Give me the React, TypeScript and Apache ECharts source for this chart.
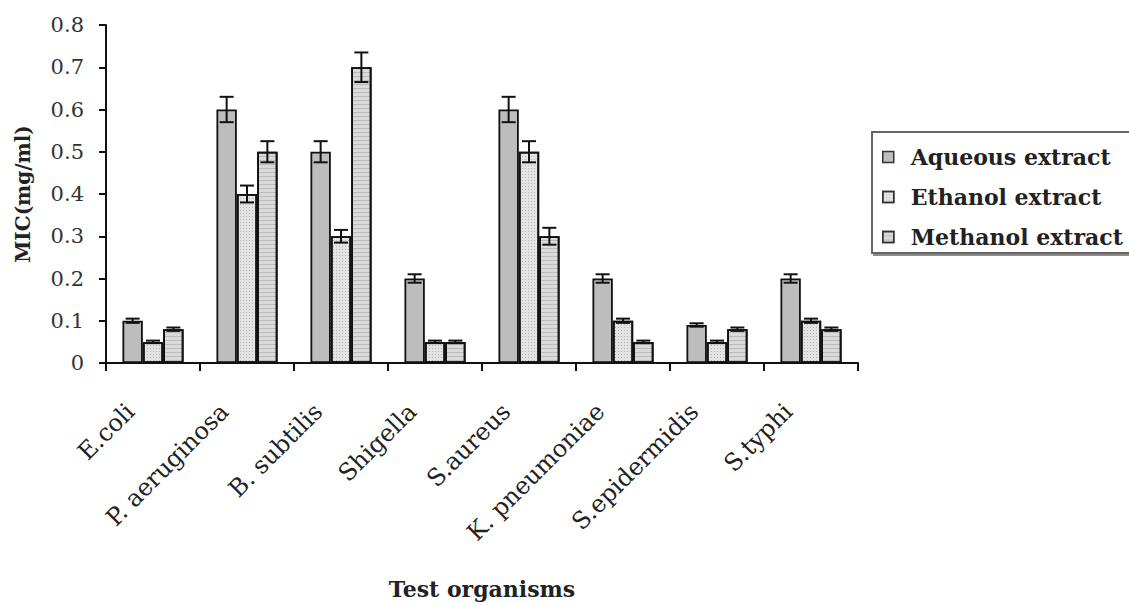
import React, { useEffect, useRef } from "react";
import * as echarts from "echarts";

const categories = [
  "E.coli",
  "P. aeruginosa",
  "B. subtilis",
  "Shigella",
  "S.aureus",
  "K. pneumoniae",
  "S.epidermidis",
  "S.typhi",
];
const seriesNames = ["Aqueous extract", "Ethanol extract", "Methanol extract"];
const aqueous = [0.1, 0.6, 0.5, 0.2, 0.6, 0.2, 0.09, 0.2];
const ethanol = [0.05, 0.4, 0.3, 0.05, 0.5, 0.1, 0.05, 0.1];
const methanol = [0.08, 0.5, 0.7, 0.05, 0.3, 0.05, 0.08, 0.08];
const aqueousErr = [0.005, 0.03, 0.025, 0.01, 0.03, 0.01, 0.004, 0.01];
const ethanolErr = [0.003, 0.02, 0.015, 0.003, 0.025, 0.005, 0.003, 0.005];
const methanolErr = [0.004, 0.025, 0.035, 0.003, 0.02, 0.003, 0.004, 0.004];
const yTicks = ["0", "0.1", "0.2", "0.3", "0.4", "0.5", "0.6", "0.7", "0.8"];

const CAT_GAP = 0.35;
const FONT = "'DejaVu Serif', 'Liberation Serif', serif";

export default function App() {
  const ref = useRef<HTMLDivElement>(null);

  useEffect(() => {
    if (!ref.current) return;
    const chart = echarts.init(ref.current, undefined, { renderer: "svg" });

    const values = [aqueous, ethanol, methanol];
    const errs = [aqueousErr, ethanolErr, methanolErr];
    const fills = ["#bdbdbd", "#e4e4e4", "#dadada"];
    const decals: any[] = [
      null,
      {
        symbol: "rect",
        symbolSize: 1,
        dashArrayX: [1, 2],
        dashArrayY: [1, 2],
        color: "rgba(0,0,0,0.22)",
      },
      {
        symbol: "rect",
        symbolSize: 1,
        dashArrayX: [1, 0],
        dashArrayY: [1, 3],
        color: "rgba(0,0,0,0.14)",
      },
    ];

    const barSeries = seriesNames.map((name, i) => ({
      name,
      type: "bar",
      data: values[i],
      barGap: "0%",
      barCategoryGap: CAT_GAP * 100 + "%",
      itemStyle: {
        color: fills[i],
        borderColor: "#111",
        borderWidth: 1.8,
        ...(decals[i] ? { decal: decals[i] } : {}),
      },
      z: 2,
    }));

    const errSeries = seriesNames.map((name, i) => ({
      name: name + " error",
      type: "custom",
      z: 5,
      data: values[i].map((v, k) => [k, v, errs[i][k]]),
      encode: { x: 0, y: 1 },
      renderItem: (params: any, api: any) => {
        const x = api.value(0);
        const v = api.value(1);
        const e = api.value(2);
        const band = api.size([1, 0])[0];
        const bw = (band * (1 - CAT_GAP)) / 3;
        const cx = api.coord([x, v])[0] + (i - 1) * bw;
        const top = api.coord([x, v + e])[1];
        const bot = api.coord([x, v - e])[1];
        const half = 7;
        const style = { stroke: "#111", lineWidth: 2 };
        return {
          type: "group",
          children: [
            { type: "line", shape: { x1: cx, y1: top, x2: cx, y2: bot }, style },
            { type: "line", shape: { x1: cx - half, y1: top, x2: cx + half, y2: top }, style },
            { type: "line", shape: { x1: cx - half, y1: bot, x2: cx + half, y2: bot }, style },
          ],
        };
      },
    }));

    chart.setOption({
      animation: false,
      backgroundColor: "#ffffff",
      textStyle: { fontFamily: FONT, color: "#222" },
      grid: { left: 106, right: 271, top: 25, bottom: 241 },
      legend: {
        data: seriesNames,
        orient: "vertical",
        left: 872,
        top: 132,
        padding: [14, 40, 5, 10],
        itemGap: 18,
        itemWidth: 11,
        itemHeight: 11,
        icon: "rect",
        backgroundColor: "#ffffff",
        borderColor: "#666",
        borderWidth: 2,
        shadowColor: "rgba(0,0,0,0.45)",
        shadowOffsetX: 2,
        shadowOffsetY: 2,
        shadowBlur: 0,
        itemStyle: { borderColor: "#333", borderWidth: 1.5 },
        textStyle: {
          fontFamily: FONT,
          fontWeight: "bold",
          fontSize: 22,
          lineHeight: 22,
          color: "#222",
          padding: [0, 0, 0, 12],
        },
      },
      xAxis: {
        type: "category",
        data: categories,
        name: "Test organisms",
        nameLocation: "middle",
        nameGap: 215,
        nameTextStyle: {
          fontFamily: FONT,
          fontWeight: "bold",
          fontSize: 22,
          color: "#222",
        },
        axisLine: { lineStyle: { color: "#111", width: 2 } },
        axisTick: { show: true, length: 8, lineStyle: { color: "#111", width: 2 } },
        axisLabel: {
          interval: 0,
          rotate: 45,
          margin: 22,
          padding: [0, 32, 0, 0],
          fontFamily: FONT,
          fontSize: 24,
          color: "#222",
        },
      },
      yAxis: {
        type: "value",
        min: 0,
        max: 0.8,
        interval: 0.1,
        name: "MIC(mg/ml)",
        nameLocation: "middle",
        nameGap: 73,
        nameTextStyle: {
          fontFamily: FONT,
          fontWeight: "bold",
          fontSize: 20,
          color: "#222",
        },
        splitLine: { show: false },
        axisLine: { show: true, lineStyle: { color: "#111", width: 2 } },
        axisTick: { show: true, length: 7, lineStyle: { color: "#111", width: 2 } },
        axisLabel: {
          margin: 22,
          fontFamily: FONT,
          fontSize: 21,
          color: "#333",
          formatter: (v: number) => yTicks[Math.round(v * 10)] ?? "",
        },
      },
      series: [...barSeries, ...errSeries],
    });

    return () => chart.dispose();
  }, []);

  return (
    <div
      ref={ref}
      style={{ position: "fixed", left: 0, top: 0, width: 1129, height: 605 }}
    />
  );
}
